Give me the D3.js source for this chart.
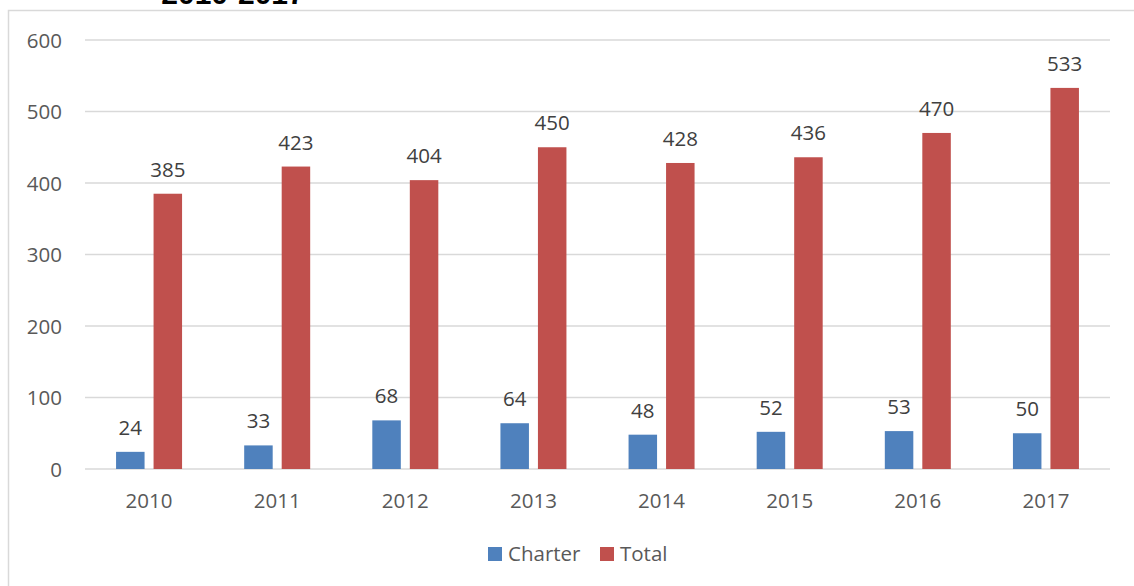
<!DOCTYPE html>
<html>
<head>
<meta charset="utf-8">
<script src="https://d3js.org/d3.v7.min.js"></script>
<style>
body{margin:0;background:#fff;}
svg{display:block;}
</style>
</head>
<body>
<div id="chart"></div>
<script>
var years = ["2010","2011","2012","2013","2014","2015","2016","2017"];
var charter = [24,33,68,64,48,52,53,50];
var total = [385,423,404,450,428,436,470,533];
var seriesNames = ["Charter","Total"];
var yTicks = [0,100,200,300,400,500,600];

var W = 1134, H = 586;
var charterColor = "#4f81bd";
var totalColor = "#c0504d";
var gridColor = "#d9d9d9";
var font = "'Open Sans', sans-serif";

var svg = d3.select("#chart").append("svg")
	.attr("width", W)
	.attr("height", H);

// outer frame (cut by the picture edges)
svg.append("rect")
	.attr("x", 8.5).attr("y", 10.5)
	.attr("width", W + 20).attr("height", H + 20)
	.attr("fill", "none")
	.attr("stroke", gridColor)
	.attr("stroke-width", 1.5);

// title, mostly outside the picture
svg.append("text")
	.attr("x", 233).attr("y", 4)
	.attr("text-anchor", "middle")
	.attr("font-family", "'Liberation Sans', Arial, sans-serif")
	.attr("font-weight", "bold")
	.attr("font-size", 30)
	.attr("fill", "#000")
	.text("2010-2017");

var x = d3.scaleBand().domain(years).range([85, 1110]);
var xs = d3.scaleBand().domain(seriesNames).range([-33, 33]).paddingInner(0.24);
var y = d3.scaleLinear().domain([0, 600]).range([469, 40]);

// grid lines
svg.selectAll(".grid")
	.data(yTicks)
	.enter()
	.append("line")
	.attr("x1", 85).attr("x2", 1110)
	.attr("y1", function(d){ return y(d); })
	.attr("y2", function(d){ return y(d); })
	.attr("stroke", gridColor)
	.attr("stroke-width", 1.5);

// y tick labels
svg.selectAll(".ytick")
	.data(yTicks)
	.enter()
	.append("text")
	.attr("x", 62)
	.attr("y", function(d){ return y(d) + 7.5; })
	.attr("text-anchor", "end")
	.attr("font-family", font)
	.attr("font-size", 20.5)
	.attr("fill", "#595959")
	.text(function(d){ return d; });

// x labels
svg.selectAll(".xtick")
	.data(years)
	.enter()
	.append("text")
	.attr("x", function(d){ return x(d) + x.bandwidth()/2; })
	.attr("y", 508)
	.attr("text-anchor", "middle")
	.attr("font-family", font)
	.attr("font-size", 20.5)
	.attr("fill", "#595959")
	.text(function(d){ return d; });

var series = [
	{name:"Charter", values:charter, clr:charterColor},
	{name:"Total", values:total, clr:totalColor}
];

series.forEach(function(s){
	var pts = years.map(function(yr, i){ return {year:yr, v:s.values[i]}; });
	svg.selectAll(".bar-" + s.name)
		.data(pts)
		.enter()
		.append("rect")
		.attr("x", function(d){ return x(d.year) + x.bandwidth()/2 + xs(s.name); })
		.attr("width", xs.bandwidth())
		.attr("y", function(d){ return y(d.v); })
		.attr("height", function(d){ return y(0) - y(d.v); })
		.attr("fill", s.clr);
	svg.selectAll(".lbl-" + s.name)
		.data(pts)
		.enter()
		.append("text")
		.attr("x", function(d){ return x(d.year) + x.bandwidth()/2 + xs(s.name) + xs.bandwidth()/2; })
		.attr("y", function(d){ return y(d.v) - 17; })
		.attr("text-anchor", "middle")
		.attr("font-family", font)
		.attr("font-size", 20.5)
		.attr("fill", "#404040")
		.text(function(d){ return d.v; });
});

// legend
var legendX = [488, 600];
series.forEach(function(s, i){
	svg.append("rect")
		.attr("x", legendX[i]).attr("y", 547)
		.attr("width", 14).attr("height", 14)
		.attr("fill", s.clr);
	svg.append("text")
		.attr("x", legendX[i] + 20).attr("y", 561)
		.attr("font-family", font)
		.attr("font-size", 20.5)
		.attr("fill", "#595959")
		.text(s.name);
});
</script>
</body>
</html>
